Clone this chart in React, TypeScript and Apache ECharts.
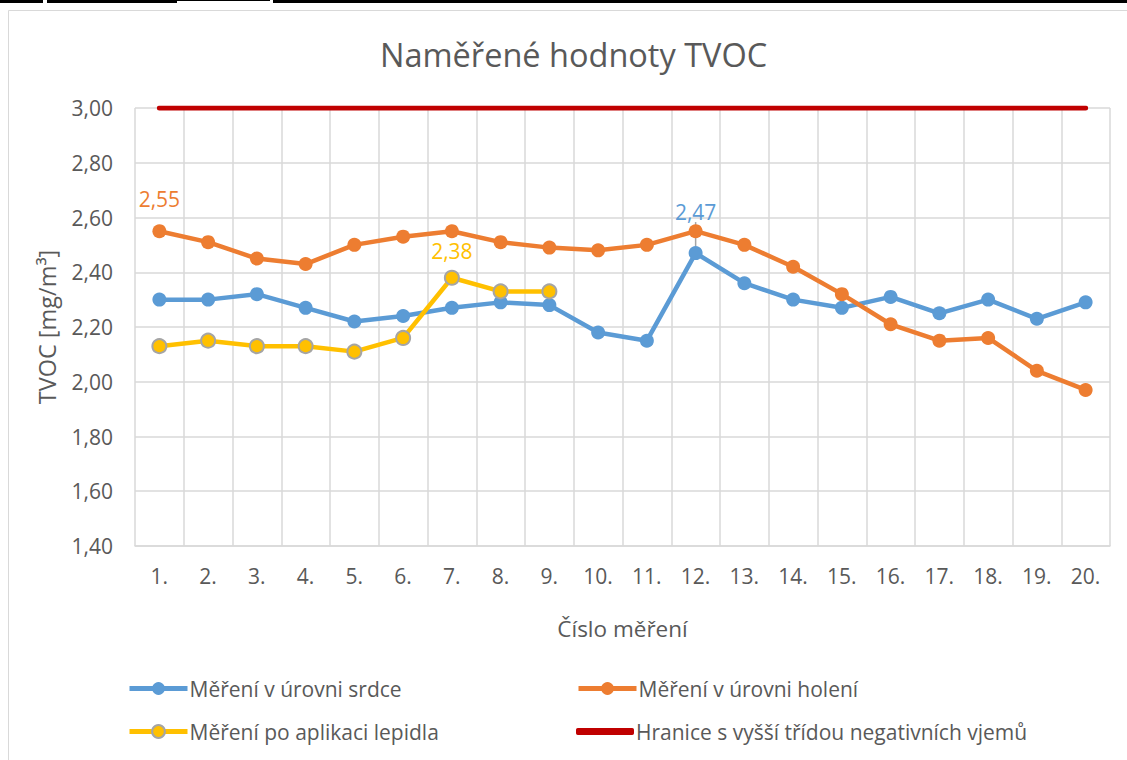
import React, { useEffect, useRef } from "react";
import * as echarts from "echarts";

const categories = ["1.", "2.", "3.", "4.", "5.", "6.", "7.", "8.", "9.", "10.", "11.", "12.", "13.", "14.", "15.", "16.", "17.", "18.", "19.", "20."];
const srdce = [2.30, 2.30, 2.32, 2.27, 2.22, 2.24, 2.27, 2.29, 2.28, 2.18, 2.15, 2.47, 2.36, 2.30, 2.27, 2.31, 2.25, 2.30, 2.23, 2.29];
const holeni = [2.55, 2.51, 2.45, 2.43, 2.50, 2.53, 2.55, 2.51, 2.49, 2.48, 2.50, 2.55, 2.50, 2.42, 2.32, 2.21, 2.15, 2.16, 2.04, 1.97];
const lepidlo = [2.13, 2.15, 2.13, 2.13, 2.11, 2.16, 2.38, 2.33, 2.33, null, null, null, null, null, null, null, null, null, null, null];
const hranice = [3, 3, 3, 3, 3, 3, 3, 3, 3, 3, 3, 3, 3, 3, 3, 3, 3, 3, 3, 3];
const labelIdx = { srdce: 11, holeni: 0, lepidlo: 6 };

const names = [
  "Měření v úrovni srdce",
  "Měření v úrovni holení",
  "Měření po aplikaci lepidla",
  "Hranice s vyšší třídou negativních vjemů",
];

const FONT = "Open Sans";
const TXT = "#595959";
const fmt = (v: number) => v.toFixed(2).replace(".", ",");

function withLabel(arr: (number | null)[], idx: number, color: string, distance: number) {
  return arr.map((v, i) =>
    i === idx
      ? {
          value: v,
          label: {
            show: true,
            position: "top",
            distance,
            color,
            fontSize: 21,
            fontFamily: FONT,
            formatter: (p: any) => fmt(p.value),
          },
        }
      : v
  );
}

export default function App() {
  const ref = useRef<HTMLDivElement>(null);
  useEffect(() => {
    const chart = echarts.init(ref.current!, null, { renderer: "svg" });
    const legendBase = {
      padding: 0,
      itemWidth: 58,
      itemHeight: 16,
      itemGap: 4,
      lineStyle: { width: 5 },
      textStyle: { color: TXT, fontSize: 21, fontFamily: FONT, padding: [0, 0, 0, -3] },
    };
    chart.setOption({
      animation: false,
      backgroundColor: "#ffffff",
      title: {
        text: "Naměřené hodnoty TVOC",
        left: 375,
        top: 33,
        textStyle: { color: TXT, fontSize: 32.5, fontWeight: "normal", fontFamily: FONT },
      },
      grid: { left: 135, right: 17, top: 108, bottom: 214, containLabel: false },
      xAxis: {
        type: "category",
        data: categories,
        boundaryGap: true,
        name: "Číslo měření",
        nameLocation: "middle",
        nameGap: 71,
        nameTextStyle: { color: TXT, fontSize: 22.5, fontFamily: FONT },
        axisLine: { show: true, lineStyle: { color: "#D9D9D9", width: 1.5 } },
        axisTick: { show: false },
        axisLabel: { interval: 0, color: TXT, fontSize: 21, fontFamily: FONT, margin: 19 },
        splitLine: { show: true, interval: 0, lineStyle: { color: "#D9D9D9", width: 1.5 } },
      },
      yAxis: {
        type: "value",
        min: 1.4,
        max: 3.0,
        interval: 0.2,
        name: "TVOC [mg/m³]",
        nameLocation: "middle",
        nameGap: 76,
        nameTextStyle: { color: TXT, fontSize: 23.5, fontFamily: FONT },
        axisLine: { show: false },
        axisTick: { show: false },
        axisLabel: { color: TXT, fontSize: 21, fontFamily: FONT, margin: 22, formatter: (v: number) => fmt(v) },
        splitLine: { show: true, lineStyle: { color: "#D9D9D9", width: 1.5 } },
      },
      legend: [
        { ...legendBase, left: 127, top: 678, data: [names[0]] },
        { ...legendBase, left: 576, top: 678, data: [names[1]] },
        { ...legendBase, left: 127, top: 721, data: [names[2]] },
        { ...legendBase, left: 576, top: 721, itemHeight: 7, icon: "roundRect", data: [names[3]] },
      ],
      series: [
        {
          name: names[0],
          type: "line",
          data: withLabel(srdce, labelIdx.srdce, "#5B9BD5", 5),
          symbol: "circle",
          symbolSize: 14,
          lineStyle: { color: "#5B9BD5", width: 4.5 },
          itemStyle: { color: "#5B9BD5" },
          labelLayout: { dy: -19 },
          labelLine: { show: true, lineStyle: { color: "#A5A5A5", width: 1.5 } },
        },
        {
          name: names[1],
          type: "line",
          data: withLabel(holeni, labelIdx.holeni, "#ED7D31", 15),
          symbol: "circle",
          symbolSize: 14,
          lineStyle: { color: "#ED7D31", width: 4.5 },
          itemStyle: { color: "#ED7D31" },
        },
        {
          name: names[2],
          type: "line",
          data: withLabel(lepidlo, labelIdx.lepidlo, "#FFC000", 8),
          symbol: "circle",
          symbolSize: 14,
          connectNulls: false,
          lineStyle: { color: "#FFC000", width: 4.5 },
          itemStyle: { color: "#FFC000", borderColor: "#A5A5A5", borderWidth: 2 },
        },
        {
          name: names[3],
          type: "line",
          data: hranice,
          symbol: "none",
          lineStyle: { color: "#C00000", width: 5, cap: "round" },
          itemStyle: { color: "#C00000" },
        },
      ],
      graphic: [
        { type: "rect", shape: { x: 8.5, y: 10.5, width: 1130, height: 760 }, style: { fill: "none", stroke: "#D9D9D9", lineWidth: 1 }, silent: true },
        { type: "rect", shape: { x: 0, y: 0, width: 43, height: 3 }, style: { fill: "#000" }, silent: true },
        { type: "rect", shape: { x: 47, y: 0, width: 130, height: 3 }, style: { fill: "#000" }, silent: true },
        { type: "rect", shape: { x: 177, y: 0, width: 93, height: 1 }, style: { fill: "#000" }, silent: true },
        { type: "rect", shape: { x: 273, y: 0, width: 860, height: 3 }, style: { fill: "#000" }, silent: true },
      ],
    });
    return () => chart.dispose();
  }, []);
  return <div ref={ref} style={{ position: "fixed", left: 0, top: 0, width: 1127, height: 760 }} />;
}
